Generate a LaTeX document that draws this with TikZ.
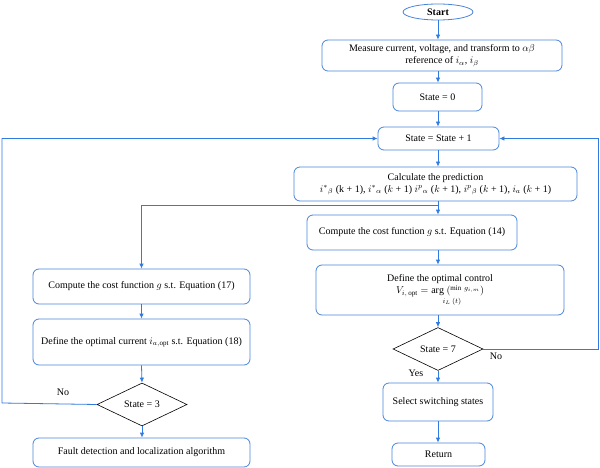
\documentclass[tikz,border=0pt]{standalone}
\usepackage{fontspec}
\setmainfont{Liberation Serif}
\usetikzlibrary{shapes.geometric,arrows.meta,calc}
\definecolor{bblue}{HTML}{4A86D8}
\definecolor{ablue}{HTML}{2F7BE0}
\begin{document}
\begin{tikzpicture}[x=1pt,y=-1pt,
  every node/.style={font=\fontsize{10pt}{12pt}\selectfont, inner sep=0pt, align=center},
  procbox/.style={draw=bblue, line width=0.8pt, rounded corners=6pt, rectangle},
  decbox/.style={draw=black, line width=0.6pt, diamond, aspect=2.1},
  conn/.style={draw=ablue, line width=0.8pt},
  arr/.style={conn, -{Latex[length=5pt,width=4.5pt]}},
  lbl/.style={font=\fontsize{10pt}{12pt}\selectfont}]
\useasboundingbox (0,0) rectangle (600,468);
\fill[white] (0,0) rectangle (600,468);

\node[ellipse, draw=bblue, line width=0.8pt, minimum width=70pt, minimum height=16pt] (start) at (438,12) {\textbf{Start}};
\node[procbox, minimum width=240pt, minimum height=31pt] (meas) at (442,55.5) {Measure current, voltage, and transform to $\alpha\beta$\\ reference of $i_{\alpha}$, $i_{\beta}$};
\node[procbox, minimum width=89pt, minimum height=28pt] (s0) at (437.5,97) {State = 0};
\node[procbox, minimum width=121pt, minimum height=23pt] (s1) at (438.5,138.5) {State = State + 1};
\node[procbox, minimum width=283pt, minimum height=34pt] (pred) at (435.5,184) {Calculate the prediction\\ $i^{*}{}_{\beta}$ (k + 1), $i^{*}{}_{\alpha}$ ($k$ + 1) $i^{p}{}_{\alpha}$ ($k$ + 1), $i^{p}{}_{\beta}$ ($k$ + 1), $i_{a}$ ($k$ + 1)};
\node[procbox, minimum width=210pt, minimum height=35pt] (c14) at (412,232.5) {Compute the cost function $g$ s.t. Equation (14)};
\node[procbox, minimum width=248pt, minimum height=50pt] (opt) at (440,290) {Define the optimal control\\ $V_{i,\,\mathrm{opt}} = \mathrm{arg}\ ({}^{\min\, g_{i,m}})$\\[-2pt] \hspace*{24pt}{\scriptsize $i_{L}\,(t)$}};
\node[decbox, minimum width=90pt, minimum height=43pt] (d7) at (438,349) {State = 7};
\node[procbox, minimum width=110pt, minimum height=38pt] (sel) at (438,402) {Select switching states};
\node[procbox, minimum width=93pt, minimum height=23pt] (ret) at (438.5,454.5) {Return};

\node[procbox, minimum width=217pt, minimum height=35pt] (c17) at (141.5,286.5) {Compute the cost function $g$ s.t. Equation (17)};
\node[procbox, minimum width=217pt, minimum height=46pt] (dcur) at (141.5,342) {Define the optimal current $i_{a,\mathrm{opt}}$ s.t. Equation (18)};
\node[decbox, minimum width=90pt, minimum height=43pt] (d3) at (142,404.5) {State = 3};
\node[procbox, minimum width=217pt, minimum height=29pt] (fault) at (141.5,452.5) {Fault detection and localization algorithm};

\coordinate (j) at (438,205);
\coordinate (rr) at (598,349);
\coordinate (ll) at (2,403);

\draw[arr] (start.south) -- (start.south |- meas.north);
\draw[arr] (start.south |- meas.south) -- (start.south |- s0.north);
\draw[arr] (start.south |- s0.south) -- (start.south |- s1.north);
\draw[arr] (start.south |- s1.south) -- (start.south |- pred.north);
\draw[conn] (start.south |- pred.south) -- (j);
\draw[arr] (j) -- (j |- c14.north);
\draw[arr] (j) -| (c17.north);
\draw[arr] (j |- c14.south) -- (j |- opt.north);
\draw[arr] (j |- opt.south) -- (d7.north);
\draw[arr] (d7.south) -- (d7.south |- sel.north);
\draw[arr] (d7.south |- sel.south) -- (d7.south |- ret.north);
\draw[arr] (d7.east) -- (rr) |- (s1.east);
\draw[arr] (c17.south) -- (c17.south |- dcur.north);
\draw[arr] (c17.south |- dcur.south) -- (d3.north);
\draw[arr] (d3.south) -- (d3.south |- fault.north);
\draw[arr] (d3.west) -- (ll) |- (s1.west);

\node[lbl] (no7) at (496,356) {No};
\node[lbl] (yes7) at (416,373) {Yes};
\node[lbl] (no3) at (63,392) {No};
\end{tikzpicture}
\end{document}
